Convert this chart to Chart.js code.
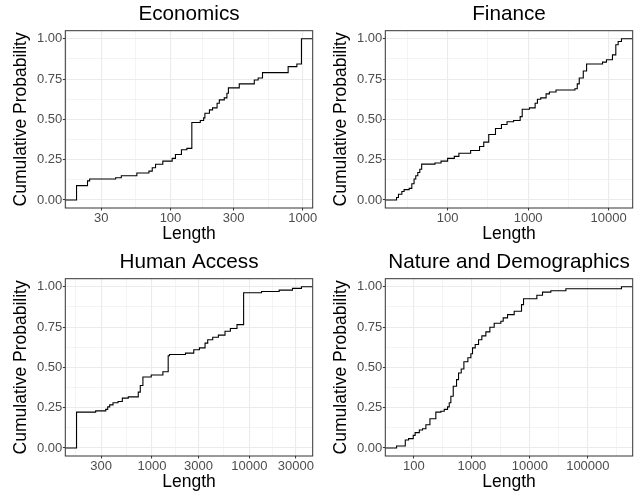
<!DOCTYPE html>
<html>
<head>
<meta charset="utf-8">
<script src="https://cdn.jsdelivr.net/npm/chart.js@4/dist/chart.umd.min.js"></script>
<style>
	html, body { margin: 0; padding: 0; background: #fff; overflow: hidden; }
	canvas { position: absolute; }
</style>
</head>
<body>
<script>
// step positions (Length) and cumulative probability reached at each step
const economicsLength = [19.5, 23.6, 24.5, 38.5, 42.5, 55.7, 68.7, 72.8, 77.1, 87.5, 103, 109, 121, 133, 145, 168, 178, 182, 197, 208, 225, 234, 255, 267, 274, 331, 430, 460, 496, 775, 902, 977];
const economicsProb = [0.089, 0.118, 0.130, 0.138, 0.150, 0.167, 0.179, 0.200, 0.221, 0.241, 0.258, 0.282, 0.311, 0.320, 0.480, 0.493, 0.509, 0.538, 0.559, 0.571, 0.600, 0.621, 0.633, 0.662, 0.695, 0.720, 0.744, 0.757, 0.790, 0.827, 0.843, 1.0];

const financeLength = [23.2, 24.5, 27, 28.8, 33.3, 35.9, 38.3, 40.2, 42.6, 45.1, 47.6, 69.6, 82.8, 100, 121, 138, 193, 249, 281, 324, 393, 466, 547, 659, 796, 844, 1038, 1221, 1304, 1434, 1671, 1837, 2220, 3811, 4074, 4313, 4840, 5321, 8395, 9400, 11150, 12270, 13120, 14420];
const financeProb = [0.015, 0.035, 0.052, 0.064, 0.072, 0.100, 0.130, 0.150, 0.170, 0.190, 0.222, 0.229, 0.241, 0.258, 0.270, 0.290, 0.307, 0.332, 0.359, 0.406, 0.443, 0.468, 0.485, 0.493, 0.517, 0.563, 0.571, 0.600, 0.625, 0.633, 0.658, 0.670, 0.682, 0.690, 0.720, 0.757, 0.800, 0.843, 0.855, 0.870, 0.900, 0.963, 0.983, 1.0];

const humanLength = [168, 264, 335, 351, 368, 398, 448, 496, 571, 723, 758, 807, 982, 1294, 1467, 1513, 2208, 2686, 3069, 3508, 3737, 4206, 4808, 5623, 6380, 7465, 8731, 13340, 20230, 27730, 34280];
const humanProb = [0.222, 0.230, 0.239, 0.255, 0.267, 0.280, 0.288, 0.309, 0.317, 0.346, 0.387, 0.440, 0.453, 0.473, 0.572, 0.580, 0.588, 0.609, 0.621, 0.650, 0.671, 0.687, 0.700, 0.724, 0.741, 0.765, 0.963, 0.971, 0.979, 0.990, 1.0];

const natureLength = [50.2, 71, 81, 97.4, 105, 124, 141, 161, 189, 239, 292, 334, 381, 407, 434, 477, 544, 589, 655, 728, 853, 961, 1026, 1141, 1303, 1486, 1742, 2042, 2426, 3162, 3470, 4121, 5370, 7178, 7776, 13200, 16530, 23000, 41800, 380000];
const natureProb = [0.012, 0.049, 0.058, 0.078, 0.095, 0.111, 0.119, 0.144, 0.181, 0.222, 0.228, 0.239, 0.255, 0.280, 0.321, 0.383, 0.424, 0.465, 0.490, 0.535, 0.560, 0.584, 0.621, 0.642, 0.671, 0.695, 0.720, 0.749, 0.774, 0.786, 0.807, 0.827, 0.848, 0.889, 0.926, 0.947, 0.967, 0.975, 0.988, 1.0];

const economicsTicks = [30, 100, 300, 1000];
const financeTicks = [100, 1000, 10000];
const humanTicks = [300, 1000, 3000, 10000, 30000];
const natureTicks = [100, 1000, 10000, 100000];
const probTicks = [0, 0.25, 0.5, 0.75, 1];

const FONT = '"Liberation Sans", Arial, sans-serif';
const GRID = '#EBEBEB';
const DARK = '#333333';

// ggplot style: midpoints between breaks, one extra break either side
const minorBreaks = (majors, lo, hi) => {
	const step = majors[1] - majors[0];
	const b = [majors[0] - step, ...majors, majors[majors.length - 1] + step];
	const out = [];
	for (let i = 0; i < b.length - 1; i++) {
		const m = (b[i] + b[i + 1]) / 2;
		if (m > lo && m < hi) out.push(m);
	}
	return out;
};

const panelBorder = {
	id: 'panelBorder',
	afterDraw(chart) {
		const {ctx, chartArea: a} = chart;
		ctx.save();
		ctx.strokeStyle = DARK;
		ctx.lineWidth = 1;
		ctx.strokeRect(a.left, a.top, a.right - a.left, a.bottom - a.top);
		ctx.restore();
	}
};

const populate = (title, lengths, probs, majors, left, top, width) => {
	const lo = Math.log10(Math.min(...lengths));
	const hi = Math.log10(Math.max(...lengths));
	const pad = (hi - lo) * 0.05;
	const xMin = 10 ** (lo - pad);
	const xMax = 10 ** (hi + pad);

	const majorLog = majors.map((v) => Math.log10(v));
	const xTicks = [...majors, ...minorBreaks(majorLog, lo - pad, hi + pad).map((v) => 10 ** v)].sort((a, b) => a - b);
	const xMajor = new Set(majors);
	const yTicks = [...probTicks, ...minorBreaks(probTicks, -0.05, 1.05)].sort((a, b) => a - b);
	const yMajor = new Set(probTicks);

	const points = [{x: xMin, y: 0}, ...lengths.map((x, i) => ({x, y: probs[i]})), {x: xMax, y: 1}];

	const element = document.createElement('canvas');
	element.width = width;
	element.height = 248;
	element.style.left = left + 'px';
	element.style.top = top + 'px';
	document.body.appendChild(element);

	const tickFont = {family: FONT, size: 13, lineHeight: 1};
	const gridFor = (isMajor) => ({
		color: GRID,
		lineWidth: (c) => isMajor(c.tick.value) ? 1.1 : 0.55,
		drawTicks: true,
		tickLength: 2.5,
		tickWidth: 1,
		tickColor: (c) => isMajor(c.tick.value) ? DARK : 'rgba(0,0,0,0)'
	});

	new Chart(element, {
		type: 'line',
		data: {
			datasets: [{
				data: points,
				stepped: 'before',
				fill: false,
				borderColor: '#000',
				borderWidth: 1.1,
				pointRadius: 0
			}]
		},
		options: {
			responsive: false,
			devicePixelRatio: 1,
			animation: false,
			layout: {padding: {left: 0, top: 0, bottom: 0, right: width - 312.7}},
			plugins: {legend: {display: false}, tooltip: {enabled: false}},
			scales: {
				x: {
					type: 'logarithmic',
					bounds: 'data',
					min: xMin,
					max: xMax,
					afterBuildTicks: (s) => { s.ticks = xTicks.map((value) => ({value})); },
					afterFit: (s) => { s.height = 40; },
					ticks: {
						autoSkip: false,
						maxRotation: 0,
						padding: 1,
						color: '#4D4D4D',
						font: tickFont,
						callback: (v) => xMajor.has(v) ? String(v) : ''
					},
					grid: gridFor((v) => xMajor.has(v)),
					border: {display: false},
					title: {display: true, text: 'Length', color: '#000', font: {family: FONT, size: 17.5, lineHeight: 1.2}, padding: {top: 0, bottom: 3.5}}
				},
				y: {
					type: 'linear',
					bounds: 'data',
					min: -0.05,
					max: 1.05,
					afterBuildTicks: (s) => { s.ticks = yTicks.map((value) => ({value})); },
					afterFit: (s) => { s.width = 65.3; },
					ticks: {
						autoSkip: false,
						padding: 0.5,
						color: '#4D4D4D',
						font: tickFont,
						callback: (v) => yMajor.has(v) ? v.toFixed(2) : ''
					},
					grid: gridFor((v) => yMajor.has(v)),
					border: {display: false},
					title: {display: true, text: 'Cumulative Probability', color: '#000', font: {family: FONT, size: 17.5, lineHeight: 1.2}, padding: {top: 10.5, bottom: 0}}
				},
				xTitle: {
					type: 'linear',
					position: 'top',
					afterFit: (s) => { s.height = 30.7; },
					ticks: {display: false},
					grid: {display: false, drawTicks: false},
					border: {display: false},
					title: {display: true, text: title, color: '#000', font: {family: FONT, size: 20.7, lineHeight: 1.2}, padding: {top: 2.3, bottom: 0}}
				}
			}
		},
		plugins: [panelBorder]
	});
};

populate('Economics', economicsLength, economicsProb, economicsTicks, 0, 0, 320);
populate('Finance', financeLength, financeProb, financeTicks, 320, 0, 321);
populate('Human Access', humanLength, humanProb, humanTicks, 0, 248, 320);
populate('Nature and Demographics', natureLength, natureProb, natureTicks, 320, 248, 321);
</script>
</body>
</html>
